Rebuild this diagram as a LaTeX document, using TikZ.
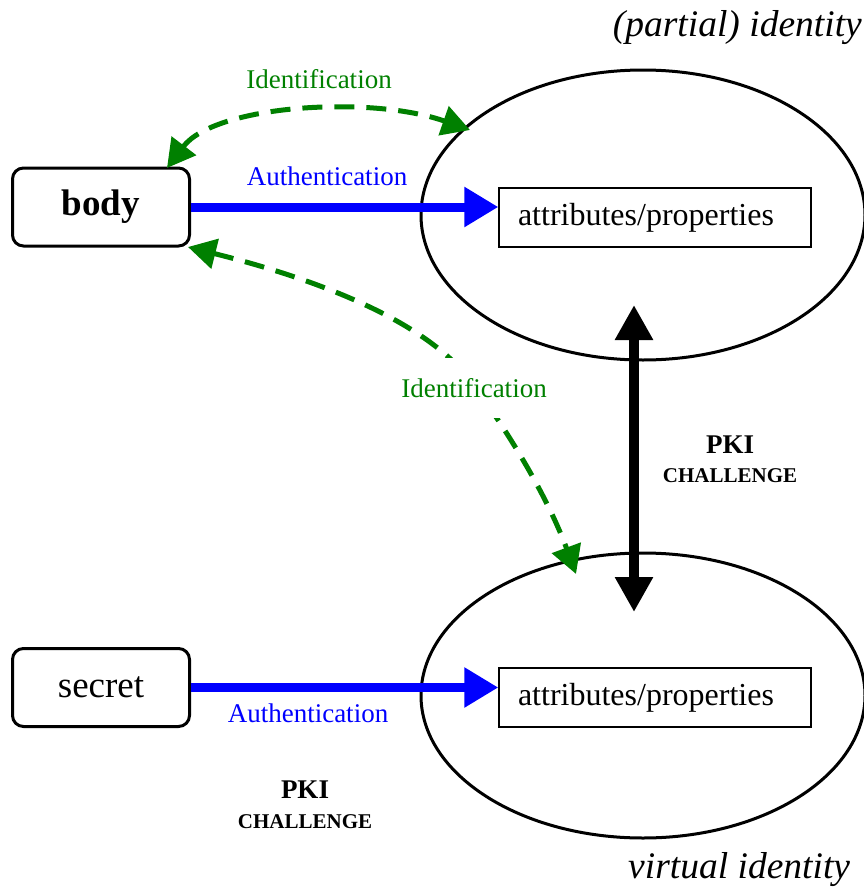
\documentclass[tikz,border=0pt]{standalone}
\usepackage{fontspec}
\setmainfont{Liberation Serif}
\usetikzlibrary{arrows.meta,shapes.geometric}
\definecolor{idgreen}{RGB}{0,128,0}
\begin{document}
\begin{tikzpicture}[x=1pt,y=-1pt,
  actor/.style={draw,line width=3pt,rounded corners=11pt,minimum width=177pt,minimum height=78pt,inner sep=0pt,font=\fontsize{37}{40}\selectfont},
  attrbox/.style={draw,line width=1.3pt,text width=274pt,align=left,inner xsep=19pt,inner ysep=0pt,minimum height=59pt,font=\fontsize{32}{34}\selectfont},
  idcloud/.style={draw,ellipse,line width=3pt,minimum width=444pt,minimum height=290pt,inner sep=0pt},
  authline/.style={draw=blue,line width=9pt,-{Triangle[length=34pt,width=38pt]}},
  identline/.style={draw=idgreen,line width=5pt,dash pattern=on 20pt off 12pt,{Triangle[length=28pt,width=30pt]}-{Triangle[length=28pt,width=30pt]}},
  pkiline/.style={draw=black,line width=10pt,{Triangle[length=35pt,width=36pt]}-{Triangle[length=35pt,width=36pt]}},
  authlabel/.style={text=blue,font=\fontsize{27}{29}\selectfont,inner sep=1pt},
  identlabel/.style={text=idgreen,font=\fontsize{27}{29}\selectfont,inner sep=1pt},
  pkititle/.style={font=\fontsize{27}{29}\selectfont\bfseries,inner sep=0pt},
  pkisub/.style={font=\fontsize{21}{23}\selectfont\bfseries,inner sep=0pt},
  caption/.style={font=\fontsize{37.5}{40}\selectfont\itshape,inner sep=0pt}]
\useasboundingbox (0,0) rectangle (864,889);

% identity clouds
\node[idcloud] (pid) at (643,215) {};
\node[idcloud,minimum height=285pt] (vid) at (643,695.5) {};

% attribute boxes
\node[attrbox] (attrA) at (655,217.5) {attributes/properties};
\node[attrbox] (attrB) at (655,697.5) {attributes/properties};

% body and secret
\node[actor] (body) at (101,207) {\textbf{body}};
\node[actor] (secret) at (101,687.5) {secret};

% authentication arrows
\draw[authline] (body.east) -- (body.east -| attrA.west);
\draw[authline] (secret.east) -- (secret.east -| attrB.west);
\node[authlabel] (authA) at (327,176) {Authentication};
\node[authlabel] (authB) at (308,713) {Authentication};

% identification arrows
\coordinate (idA1) at (167,168);
\coordinate (idA2) at (470,130);
\draw[identline] (idA1) .. controls (215,105) and (370,95) .. (idA2);
\node[identlabel] (identA) at (319,79) {Identification};

\coordinate (idB1) at (188,247);
\coordinate (idBm) at (470,380);
\coordinate (idB2) at (576,574);
\draw[identline] (idB1) .. controls (300,275) and (420,315) .. (idBm)
  .. controls (500,420) and (545,490) .. (idB2);
\node[identlabel,fill=white,minimum height=60pt] (identB) at (474,388) {Identification};

% PKI challenge between the identities
\coordinate (pkiTop) at (634,305);
\coordinate (pkiBot) at (634,612);
\draw[pkiline] (pkiTop) -- (pkiBot);
\node[pkititle] (pkiA) at (730,445) {PKI};
\node[pkisub] (chalA) at (730,476) {CHALLENGE};
\node[pkititle] (pkiB) at (305,790) {PKI};
\node[pkisub] (chalB) at (305,822) {CHALLENGE};

% captions
\node[caption,anchor=east] (capA) at (862,28) {(partial) identity};
\node[caption,anchor=west] (capB) at (628,870) {virtual identity};
\end{tikzpicture}
\end{document}
